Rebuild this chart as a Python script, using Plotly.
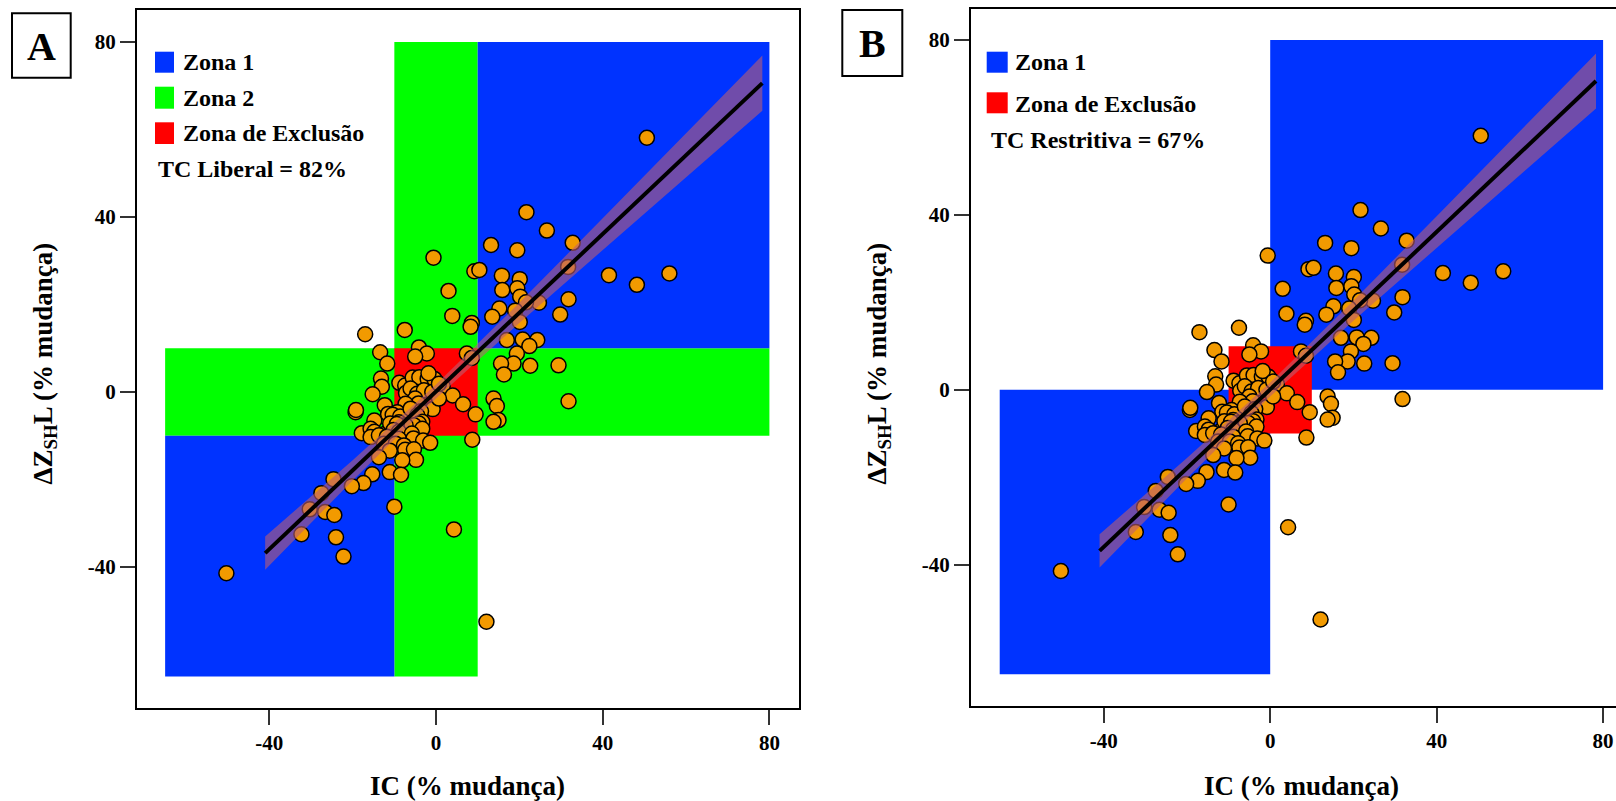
import plotly.graph_objects as go

W, H = 1616, 801

# ---- data ----
ic_pct = [50.6, 21.7, 26.6, 32.8, 13.2, 19.5, -0.6, 9.2, 10.4, 15.8, 20.1, 41.5, 48.2, 56.0, 31.7,
          15.9, 19.5, 3.0, 20.2, 31.8, 24.7, 21.6, 15.2, 19.0, 29.8, 13.5, 3.9, 8.6, 8.3, 20.1,
          -7.5, -17.0, 17.0, 20.8, 24.3, 22.4, 19.4, 18.6, 15.6, 22.6, 29.4, 16.3, 31.8, 13.8, 14.6,
          15.0, 13.8, 7.4, 8.6, -4.1, -2.2, -5.0, -13.4, -11.7, -13.2, -13.0, -15.2, -19.3, -19.2,
          -17.8, -8.8, -7.4, -5.6, -4.0, -2.0, -0.4, -1.8, 1.6, 4.0, 6.5, 9.5, 8.7, -0.8, -7.2,
          -6.1, -4.5, -2.9, -0.9, 0.7, 0.7, -5.0, -4.2, -7.3, -12.3, -11.5, -14.8, -15.7, -14.8,
          -15.7, -12.1, -13.7, -9.3, -10.4, -8.6, -8.9, -6.1, -3.6, -4.5, -3.3, -4.1, -5.3, -7.3,
          -10.5, -11.0, -9.4, -3.3, -10.2, -8.9, -5.8, -11.8, -8.9, -5.4, -3.1, -1.4, -12.5, -9.7,
          -7.7, -7.4, -5.3, -11.1, -13.7, -4.8, -8.1, -15.3, -11.1, -8.4, -17.4, -20.2, -24.6,
          -27.5, -30.3, -26.6, -24.4, -32.3, -24.0, -10.0, 4.3, -22.2, -50.3, 12.1]
dz_pct = [58.1, 41.1, 36.9, 34.1, 33.6, 32.4, 30.7, 27.6, 27.9, 26.6, 25.8, 26.7, 24.5, 27.1, 28.6,
          23.3, 23.7, 23.1, 21.8, 21.2, 20.4, 20.5, 19.1, 18.6, 17.7, 17.2, 17.4, 15.8, 14.9, 16.0,
          14.2, 13.2, 11.9, 12.0, 11.9, 10.5, 8.8, 6.5, 6.5, 6.0, 6.1, 4.0, -2.1, -1.5, -3.2,
          -6.4, -6.8, 8.8, 7.8, 10.2, 8.8, 8.1, 9.1, 6.5, 3.1, 1.2, -0.5, -4.6, -4.1,
          -9.4, 2.1, 1.5, 3.3, 3.4, 3.0, 3.0, 4.3, 1.3, -0.8, -2.8, -5.1, -10.9, -3.9, -0.2,
          0.8, -0.4, 0.4, 0.0, -1.5, 1.9, -1.5, -2.6, -2.7, -3.0, -5.0, -6.5, -8.4, -9.1,
          -10.3, -9.5, -9.9, -4.6, -5.2, -5.6, -6.9, -3.8, -4.4, -5.3, -6.8, -7.2, -7.6, -7.6,
          -8.4, -7.2, -7.3, -8.4, -8.7, -9.1, -9.5, -10.2, -10.7, -10.6, -11.1, -11.6, -11.8, -11.8,
          -12.2, -13.2, -13.1, -13.4, -14.9, -15.5, -15.6, -18.8, -18.3, -18.9, -20.8, -21.5, -19.9,
          -23.1, -26.8, -27.4, -28.1, -32.5, -33.2, -26.2, -31.4, -37.6, -41.4, -52.5]

# regression line and its confidence band
fit_x = [-41.0, 78.3]
fit_y = [-36.8, 70.6]
band_x = [-41.0, -20.0, 0.0, 20.0, 40.0, 60.0, 78.3]
band_lo = [-40.6, -20.2, -1.5, 15.8, 32.5, 49.1, 64.3]
band_hi = [-33.0, -15.6, 1.7, 20.4, 39.7, 59.1, 76.9]

# zone bounds (x0, x1, y0, y1)
zona1_A = [(10, 80, 10, 80), (-65, -10, -65, -10)]
zona2_A = [(-10, 10, -65, 80), (-65, 80, -10, 10)]
exclusao = [(-10, 10, -10, 10)]
zona1_B = [(0, 80, 0, 80), (-65, 0, -65, 0)]

tick_vals = [-40, 0, 40, 80]
tick_text = ["-40", "0", "40", "80"]

BLUE = "#0033FF"
GREEN = "#00FF00"
RED = "#FF0000"
ORANGE = "#F29A00"
FONT = "Liberation Serif"


def px(x):
    return x / W


def py(y):
    return 1 - y / H


fig = go.Figure()

for xa, ya in [("x", "y"), ("x2", "y2")]:
    fig.add_trace(go.Scatter(x=ic_pct, y=dz_pct, mode="markers", xaxis=xa, yaxis=ya,
                             marker=dict(size=15, color=ORANGE, line=dict(color="black", width=1.5)),
                             showlegend=False, hoverinfo="skip"))
    fig.add_trace(go.Scatter(x=band_x + band_x[::-1], y=band_hi + band_lo[::-1], xaxis=xa, yaxis=ya,
                             fill="toself", fillcolor="rgba(187,93,113,0.6)", mode="lines",
                             line=dict(width=0), showlegend=False, hoverinfo="skip"))
    fig.add_trace(go.Scatter(x=fit_x, y=fit_y, mode="lines", xaxis=xa, yaxis=ya,
                             line=dict(color="black", width=4), showlegend=False, hoverinfo="skip"))

shapes = []


def add_zones(zones, color, xr, yr):
    for (x0, x1, y0, y1) in zones:
        shapes.append(dict(type="rect", xref=xr, yref=yr, x0=x0, x1=x1, y0=y0, y1=y1,
                           fillcolor=color, line=dict(width=0), layer="below"))


add_zones(zona2_A, GREEN, "x", "y")
add_zones(zona1_A, BLUE, "x", "y")
add_zones(exclusao, RED, "x", "y")
add_zones(zona1_B, BLUE, "x2", "y2")
add_zones(exclusao, RED, "x2", "y2")


def paper_rect(x0, x1, y0, y1, fill=None, lw=0):
    shapes.append(dict(type="rect", xref="paper", yref="paper", x0=px(x0), x1=px(x1),
                       y0=py(y1), y1=py(y0), fillcolor=fill if fill else "rgba(0,0,0,0)",
                       line=dict(color="black", width=lw)))


# panel label boxes
paper_rect(12, 70.7, 13.3, 77.7, None, 2)
paper_rect(842.3, 902.3, 10, 76, None, 2)
# legend squares
paper_rect(155, 174, 51.7, 72.7, BLUE)
paper_rect(155, 174, 86.7, 108.7, GREEN)
paper_rect(155, 174, 122.3, 144, RED)
paper_rect(986.7, 1007.7, 51.7, 72.7, BLUE)
paper_rect(986.7, 1007.7, 92.3, 113.3, RED)

annotations = []


def txt(s, x, y, size, xanchor="left", angle=0):
    annotations.append(dict(text=s, x=px(x), y=py(y), xref="paper", yref="paper",
                            xanchor=xanchor, yanchor="middle", showarrow=False, textangle=angle,
                            font=dict(family=FONT, size=size, color="black", weight="bold")))


txt("A", 41.3, 46, 40, "center")
txt("B", 872.3, 43.5, 40, "center")
txt("Zona 1", 181, 62.5, 24)
txt("Zona 2", 181, 98, 24)
txt("Zona de Exclusão", 181, 133.5, 24)
txt("TC Liberal = 82%", 156, 169, 24)
txt("Zona 1", 1013, 62.5, 24)
txt("Zona de Exclusão", 1013, 104, 24)
txt("TC Restritiva = 67%", 989, 140, 24)
txt("IC (% mudança)", 468, 786, 27, "center")
txt("IC (% mudança)", 1301, 786, 27, "center")
txt("ΔZ<sub>SH</sub>L (% mudança)", 44.5, 364, 27, "center", -90)
txt("ΔZ<sub>SH</sub>L (% mudança)", 878.5, 364, 27, "center", -90)

axis_common = dict(showgrid=False, zeroline=False, showline=True, linecolor="black", linewidth=2,
                   ticks="outside", ticklen=15, tickwidth=2, tickcolor="#333333",
                   tickvals=tick_vals, ticktext=tick_text,
                   tickfont=dict(family=FONT, size=21, color="black", weight="bold"))

fig.update_layout(
    width=W, height=H, autosize=False,
    margin=dict(l=0, r=0, t=0, b=0),
    paper_bgcolor="white", plot_bgcolor="white",
    xaxis=dict(domain=[px(137), px(799)], range=[-71.75, 87.1], anchor="y", mirror=True, **axis_common),
    yaxis=dict(domain=[py(708), py(10)], range=[-72.2, 87.3], anchor="x", mirror=True, **axis_common),
    xaxis2=dict(domain=[px(971), 1.0], range=[-71.9, 83.1], anchor="y2", mirror=True, **axis_common),
    yaxis2=dict(domain=[py(705.7), py(9.3)], range=[-72.2, 87.0], anchor="x2", mirror=False, **axis_common),
    shapes=shapes,
    annotations=annotations,
    showlegend=False,
)

fig.write_html("out.html", config={"displayModeBar": False},
               post_script="document.body.style.margin='0';")
